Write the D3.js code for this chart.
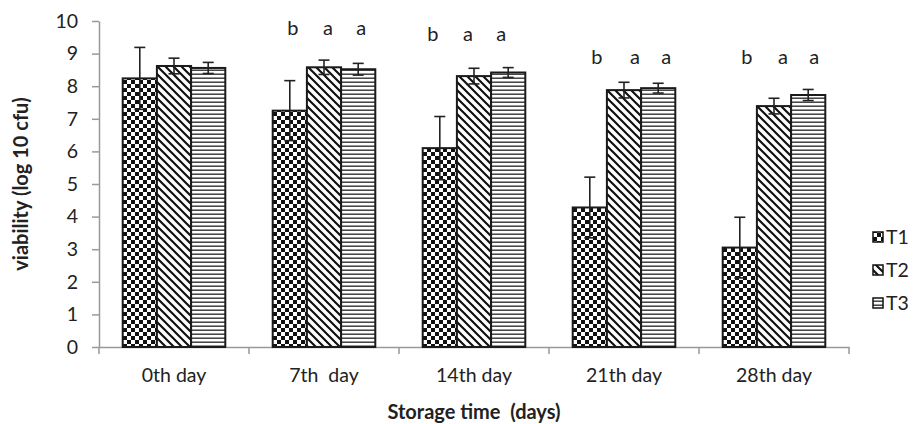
<!DOCTYPE html>
<html>
<head>
<meta charset="utf-8">
<script src="https://cdn.jsdelivr.net/npm/d3@7"></script>
<style>
  html, body { margin: 0; padding: 0; background: #fff; }
  svg { display: block; }
  text { font-family: Lato, "Open Sans", sans-serif; fill: #222; white-space: pre; }
</style>
</head>
<body>
<svg id="chart" width="919" height="424"></svg>
<script>
// Viability of the three treatments over storage time
const categories = ["0th day", "7th  day", "14th day", "21th day", "28th day"];
const seriesNames = ["T1", "T2", "T3"];
const t1Values = [8.24, 7.25, 6.10, 4.28, 3.05];
const t2Values = [8.62, 8.58, 8.31, 7.88, 7.39];
const t3Values = [8.56, 8.52, 8.42, 7.94, 7.73];
const t1Errors = [0.95, 0.92, 0.97, 0.93, 0.93];
const t2Errors = [0.24, 0.22, 0.24, 0.24, 0.24];
const t3Errors = [0.17, 0.18, 0.15, 0.15, 0.17];
// significance letters per category (none for day 0)
const letters = [[], ["b", "a", "a"], ["b", "a", "a"], ["b", "a", "a"], ["b", "a", "a"]];
const yTicks = [0, 1, 2, 3, 4, 5, 6, 7, 8, 9, 10];
const yTitle = "viability (log 10 cfu)";
const xTitle = "Storage time  (days)";

const values = [t1Values, t2Values, t3Values];
const errors = [t1Errors, t2Errors, t3Errors];

const svg = d3.select("#chart");
const plot = { left: 99, right: 849, top: 21, bottom: 347 };

const x = d3.scaleBand().domain(categories).range([plot.left, plot.right]).paddingInner(0).paddingOuter(0);
const groupPad = 0.158;
const xSeries = d3.scaleBand().domain(seriesNames)
  .range([x.bandwidth() * groupPad, x.bandwidth() * (1 - groupPad)]);
const y = d3.scaleLinear().domain([0, 10]).range([plot.bottom, plot.top]);

// fill patterns
const defs = svg.append("defs");
const checker = defs.append("pattern").attr("id", "pat-T1")
  .attr("patternUnits", "userSpaceOnUse").attr("width", 8).attr("height", 8);
checker.append("rect").attr("width", 8).attr("height", 8).attr("fill", "#fff");
checker.append("rect").attr("x", 0).attr("y", 0).attr("width", 4).attr("height", 4).attr("fill", "#111");
checker.append("rect").attr("x", 4).attr("y", 4).attr("width", 4).attr("height", 4).attr("fill", "#111");

const diag = defs.append("pattern").attr("id", "pat-T2")
  .attr("patternUnits", "userSpaceOnUse").attr("width", 8).attr("height", 8);
diag.append("rect").attr("width", 8).attr("height", 8).attr("fill", "#fff");
diag.append("path").attr("d", "M-2,-2 L10,10 M-2,6 L2,10 M6,-2 L10,2")
  .attr("stroke", "#111").attr("stroke-width", 2.2);

const horiz = defs.append("pattern").attr("id", "pat-T3")
  .attr("patternUnits", "userSpaceOnUse").attr("width", 8).attr("height", 4);
horiz.append("rect").attr("width", 8).attr("height", 4).attr("fill", "#fff");
horiz.append("rect").attr("y", 1.5).attr("width", 8).attr("height", 1.4).attr("fill", "#333");

// y axis
const yAxis = d3.axisLeft(y).tickValues(yTicks).tickSize(7).tickPadding(14).tickSizeOuter(0);
const gy = svg.append("g").attr("transform", `translate(${plot.left},0)`).call(yAxis);
gy.select(".domain").attr("stroke", "#999").attr("stroke-width", 1.5);
gy.selectAll(".tick line").attr("stroke", "#999").attr("stroke-width", 1.5);
gy.selectAll(".tick text").style("font-size", "19.5px").style("font-family", "Lato, sans-serif").attr("fill", "#222");

// x axis: labels centred in each band, tick marks at band boundaries
const xAxis = d3.axisBottom(x).tickSize(0).tickPadding(21).tickSizeOuter(0);
const gx = svg.append("g").attr("transform", `translate(0,${plot.bottom})`).call(xAxis);
gx.select(".domain").attr("stroke", "#999").attr("stroke-width", 1.5);
gx.selectAll(".tick text").style("font-size", "19.5px").style("font-family", "Lato, sans-serif")
  .style("white-space", "pre").attr("fill", "#222");
const boundaries = categories.map(c => x(c)).concat([x.range()[1]]);
gx.selectAll("line.bound").data(boundaries).join("line").attr("class", "bound")
  .attr("x1", d => d).attr("x2", d => d).attr("y1", 0).attr("y2", 7)
  .attr("stroke", "#999").attr("stroke-width", 1.5);

// bars
const groups = svg.append("g").selectAll("g").data(categories).join("g")
  .attr("transform", d => `translate(${x(d)},0)`);

seriesNames.forEach((s, si) => {
  groups.append("rect")
    .attr("x", xSeries(s))
    .attr("y", (d, i) => y(values[si][i]))
    .attr("width", xSeries.bandwidth())
    .attr("height", (d, i) => y(0) - y(values[si][i]))
    .attr("fill", `url(#pat-${s})`)
    .attr("stroke", "#1a1a1a").attr("stroke-width", 2);
});

// error bars
const capHalf = 5.5;
seriesNames.forEach((s, si) => {
  const cx = xSeries(s) + xSeries.bandwidth() / 2;
  const eb = groups.append("g").attr("stroke", "#222").attr("stroke-width", 1.6);
  eb.append("line").attr("x1", cx).attr("x2", cx)
    .attr("y1", (d, i) => y(values[si][i] + errors[si][i]))
    .attr("y2", (d, i) => y(values[si][i] - errors[si][i]));
  eb.append("line").attr("x1", cx - capHalf).attr("x2", cx + capHalf)
    .attr("y1", (d, i) => y(values[si][i] + errors[si][i]))
    .attr("y2", (d, i) => y(values[si][i] + errors[si][i]));
  eb.append("line").attr("x1", cx - capHalf).attr("x2", cx + capHalf)
    .attr("y1", (d, i) => y(values[si][i] - errors[si][i]))
    .attr("y2", (d, i) => y(values[si][i] - errors[si][i]));
});

// significance letters, hand-placed over the bars of each group
const letterLevel = [null, 9.57, 9.39, 8.68, 8.68];
const letterShift = [[], [3, 4, 3], [-7, -6, -7], [7, 11, 8], [7, 9, 6]];
groups.each(function (d, i) {
  const g = d3.select(this);
  letters[i].forEach((l, si) => {
    g.append("text")
      .attr("x", xSeries(seriesNames[si]) + xSeries.bandwidth() / 2 + letterShift[i][si])
      .attr("y", y(letterLevel[i]))
      .attr("text-anchor", "middle")
      .style("font-size", "20px")
      .text(l);
  });
});

// axis titles
svg.append("text")
  .attr("transform", `translate(28,${(plot.top + plot.bottom) / 2}) rotate(-90)`)
  .attr("text-anchor", "middle")
  .style("font-size", "20px").style("font-weight", "bold")
  .text(yTitle);
svg.append("text")
  .attr("x", (plot.left + plot.right) / 2)
  .attr("y", 419)
  .attr("text-anchor", "middle")
  .style("font-size", "20px").style("font-weight", "bold")
  .text(xTitle);

// legend
const legend = svg.append("g").attr("transform", "translate(873,0)");
const legendY = d3.scalePoint().domain(seriesNames).range([237, 303]);
const li = legend.selectAll("g").data(seriesNames).join("g")
  .attr("transform", d => `translate(0,${legendY(d)})`);
li.append("rect").attr("x", 0).attr("y", -5).attr("width", 10).attr("height", 10)
  .attr("fill", d => `url(#pat-${d})`).attr("stroke", "#111").attr("stroke-width", 1.5);
li.append("text").attr("x", 13).attr("y", 7).style("font-size", "19.5px").text(d => d);
</script>
</body>
</html>
